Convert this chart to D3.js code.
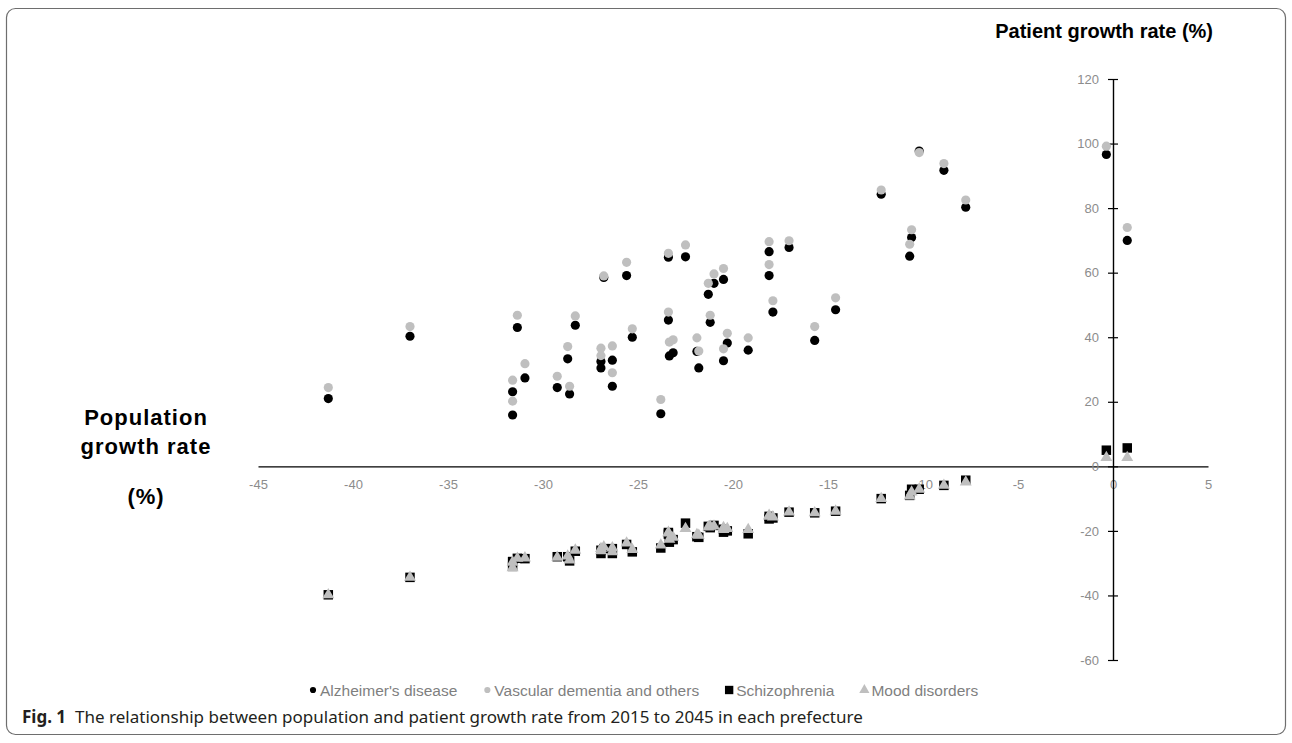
<!DOCTYPE html>
<html lang="en">
    <head>
        <meta charset="utf-8">
        <title>Population and patient growth rate</title>
        <script type="text/javascript" src="https://cdnjs.cloudflare.com/ajax/libs/d3/7.8.5/d3.min.js"></script>
        <style>
          body { margin: 0; background: #fff; }
          .tick text { font-family: "Liberation Sans", Arial, sans-serif; font-size: 13px; fill: #8c8c8c; }
          .label { font-family: "Liberation Sans", Arial, sans-serif; font-weight: bold; font-size: 20px; fill: #000; }
          .legend text { font-family: "Liberation Sans", Arial, sans-serif; font-size: 15.5px; fill: #7f7f7f; }
        </style>
    </head>
    <body>
        <svg width="1292" height="743"></svg>
        <script type="text/javascript">
            // population growth rate per prefecture (x)
            var popGrowth = [-41.3, -37.0, -31.35, -30.95, -31.6, -31.6, -29.25, -28.6, -28.7, -28.3,
                             -26.95, -26.95, -26.8, -26.35, -26.35, -25.6, -25.3, -23.8, -23.4, -23.4,
                             -23.35, -23.15, -22.5, -21.9, -21.8, -21.3, -21.0, -21.2, -20.5, -20.5,
                             -20.3, -19.2, -18.1, -18.1, -17.9, -17.05, -15.7, -14.6, -12.2, -10.7,
                             -10.6, -10.2, -8.9, -7.75, -0.35, 0.75];

            // patient growth rate by disease (y)
            var alzheimer = [21.0, 40.3, 43.0, 27.4, 23.1, 15.9, 24.4, 22.4, 33.3, 43.7,
                             30.5, 32.5, 58.5, 32.9, 24.8, 59.1, 40.0, 16.3, 45.3, 64.8,
                             34.2, 35.2, 64.9, 35.6, 30.5, 53.3, 56.7, 44.6, 57.9, 32.7,
                             38.2, 36.0, 59.1, 66.5, 47.8, 67.8, 39.0, 48.5, 84.3, 65.1,
                             70.9, 97.7, 91.7, 80.3, 96.6, 70.0];
            var vascular = [24.4, 43.3, 46.8, 31.8, 26.7, 20.2, 27.9, 24.8, 37.1, 46.6,
                            34.3, 36.6, 59.0, 37.3, 29.0, 63.2, 42.6, 20.7, 47.8, 66.0,
                            38.5, 39.2, 68.6, 39.8, 35.7, 56.7, 59.6, 46.8, 61.3, 36.4,
                            41.2, 39.8, 62.5, 69.6, 51.3, 69.9, 43.3, 52.2, 85.6, 68.8,
                            73.3, 97.2, 93.8, 82.5, 99.2, 74.0];
            var schizophrenia = [-39.8, -34.4, -28.5, -28.6, -29.5, -31.0, -28.0, -29.3, -28.0, -26.3,
                                 -27.0, -26.0, -25.5, -25.5, -27.0, -24.2, -26.5, -25.3, -21.0, -20.5,
                                 -23.5, -22.7, -17.6, -21.8, -22.0, -18.6, -18.3, -19.0, -19.5, -20.4,
                                 -20.0, -20.9, -16.3, -15.5, -16.0, -14.2, -14.4, -13.9, -10.0, -9.0,
                                 -7.1, -7.1, -5.9, -4.3, 5.0, 5.7];
            var mood = [-39.8, -34.4, -28.5, -28.4, -29.7, -31.4, -28.2, -29.0, -27.8, -26.0,
                        -26.2, -25.5, -25.0, -25.3, -26.5, -23.8, -25.8, -24.4, -20.7, -20.5,
                        -22.6, -22.0, -19.3, -21.2, -21.4, -18.8, -18.5, -18.6, -19.0, -19.6,
                        -19.3, -19.6, -15.5, -15.2, -15.7, -14.2, -14.4, -13.9, -10.0, -9.2,
                        -8.0, -7.1, -5.9, -4.9, 2.7, 2.7];

            var seriesNames = ["Alzheimer's disease", "Vascular dementia and others", "Schizophrenia", "Mood disorders"];
            var xTicks = [-45, -40, -35, -30, -25, -20, -15, -10, -5, 0, 5];
            var yTicks = [-60, -40, -20, 0, 20, 40, 60, 80, 100, 120];

            var series = [
              {name: seriesNames[0], values: alzheimer, shape: d3.symbolCircle, size: 66, key: 30, color: "#000"},
              {name: seriesNames[1], values: vascular, shape: d3.symbolCircle, size: 66, key: 30, color: "#bfbfbf"},
              {name: seriesNames[2], values: schizophrenia, shape: d3.symbolSquare, size: 90, key: 70, color: "#000"},
              {name: seriesNames[3], values: mood, shape: d3.symbolTriangle, size: 62, key: 45, color: "#bfbfbf"}
            ];

            var svg = d3.select("svg");

            // outer frame
            svg.append("rect")
              .attr("x", 6.5).attr("y", 8.5)
              .attr("width", 1279).attr("height", 726)
              .attr("rx", 9)
              .attr("fill", "none")
              .attr("stroke", "#6e6e6e")
              .attr("stroke-width", 1.2);

            // scales
            var x = d3.scaleLinear().domain([-45, 5]).range([258, 1208]);
            var y = d3.scaleLinear().domain([-60, 120]).range([660, 79]);

            // plain hyphen minus like the original
            var fmt = function(d) { return String(d); };

            // x axis through zero
            var gx = svg.append("g")
              .attr("transform", "translate(0," + y(0) + ")")
              .call(d3.axisBottom(x).tickValues(xTicks).tickFormat(fmt).tickSize(0).tickPadding(13));
            gx.select(".domain").attr("stroke", "#000").attr("stroke-width", 1.4);

            // y axis through zero
            var gy = svg.append("g")
              .attr("transform", "translate(" + x(0) + ",0)")
              .call(d3.axisLeft(y).tickValues(yTicks).tickFormat(fmt).tickSizeOuter(0).tickPadding(14));
            gy.select(".domain").attr("stroke", "#000").attr("stroke-width", 1.4);
            gy.selectAll(".tick line").attr("x1", -5).attr("x2", 5).attr("stroke", "#000").attr("stroke-width", 1.2);
            gy.selectAll(".tick text").attr("x", -14);

            // markers
            series.forEach(function(s) {
              svg.append("g")
                .selectAll("path")
                .data(s.values)
                .enter()
                  .append("path")
                  .attr("transform", function(d, i) {
                    return "translate(" + x(popGrowth[i]) + "," + y(d) + ")";
                  })
                  .attr("d", d3.symbol().type(s.shape).size(s.size))
                  .attr("fill", s.color);
            });

            // axis titles
            svg.append("text")
              .attr("class", "label")
              .attr("x", 1213).attr("y", 38)
              .attr("text-anchor", "end")
              .text("Patient growth rate (%)");

            var leftLabel = [["Population", 425], ["growth rate", 454], ["(%)", 504]];
            leftLabel.forEach(function(l) {
              svg.append("text")
                .attr("class", "label")
                .attr("x", 146).attr("y", l[1])
                .attr("text-anchor", "middle")
                .style("font-size", "22px")
                .style("letter-spacing", "1px")
                .text(l[0]);
            });

            // legend
            var legend = svg.append("g").attr("class", "legend");
            var lx = 313;
            series.forEach(function(s) {
              var item = legend.append("g").attr("transform", "translate(" + lx + ",690)");
              item.append("path")
                .attr("d", d3.symbol().type(s.shape).size(s.key))
                .attr("fill", s.color);
              var t = item.append("text")
                .attr("x", 7).attr("y", 5.5)
                .text(s.name);
              lx += 7 + t.node().getComputedTextLength() + 30;
            });

            // caption
            var cap = svg.append("text")
              .attr("x", 22).attr("y", 723)
              .style("font-family", "'Noto Sans', 'Open Sans', sans-serif")
              .style("font-size", "17px")
              .attr("fill", "#231f20");
            cap.append("tspan").style("font-weight", "bold").text("Fig. 1");
            cap.append("tspan").attr("dx", 9).text("The relationship between population and patient growth rate from 2015 to 2045 in each prefecture");
        </script>
    </body>
</html>
